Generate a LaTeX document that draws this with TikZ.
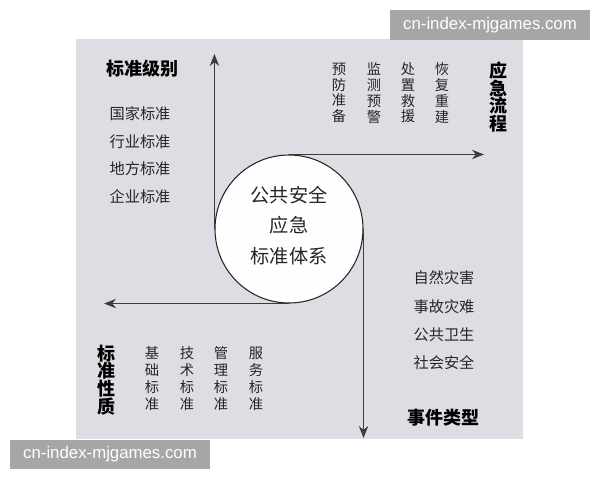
\documentclass[tikz,border=0pt]{standalone}
\usepackage{fontspec}
\newfontfamily\cjk{Noto Sans CJK SC}
\newfontfamily\wmfont{Liberation Sans}
\usetikzlibrary{arrows.meta}
\definecolor{bggray}{HTML}{DDDEE3}
\definecolor{ink}{HTML}{262626}
\definecolor{wmgray}{HTML}{A6A6A6}
\tikzset{
  axis/.style={draw=ink!90, line width=1.1pt, -{Stealth[length=9pt,width=7pt]}},
  item/.style={font=\cjk\fontsize{11.4}{12}\selectfont, text=ink, inner sep=0pt},
  title/.style={font=\cjk\bfseries\fontsize{13.5}{13.3}\selectfont, text=black, inner sep=0pt, align=center},
  colA/.style={font=\cjk\fontsize{10.7}{11.8}\selectfont, text=ink, inner sep=0pt, align=center},
  colB/.style={font=\cjk\fontsize{10.7}{12.75}\selectfont, text=ink, inner sep=0pt, align=center},
  hub/.style={circle, draw=ink, line width=0.8pt, fill=white!96!bggray, minimum size=111pt, inner sep=0pt},
  hubtext/.style={font=\cjk\fontsize{14.4}{15}\selectfont, text=ink, inner sep=0pt},
  wm/.style={fill=wmgray, text=white, font=\wmfont\fontsize{12.6}{13}\selectfont, minimum width=150pt, minimum height=22pt, inner sep=0pt}
}
\begin{document}
\begin{tikzpicture}[x=0.75pt,y=-0.75pt]
\useasboundingbox (0,0) rectangle (600,480);
\fill[bggray] (76,39) rectangle (523,439);
% central circle
\node[hub] (c) at (289,229) {};
\node[hubtext] (h1) at (289,195) {公共安全};
\node[hubtext] (h2) at (289,225) {应急};
\node[hubtext] (h3) at (289,256) {标准体系};
% axes
\coordinate (up) at (214,54);
\coordinate (rt) at (484,156);
\coordinate (dn) at (365,438);
\coordinate (lf) at (104,305);
\draw[axis] (c.west) -- (c.west |- up);
\draw[axis] (c.north) -- (rt |- c.north);
\draw[axis] (c.east) -- (c.east |- dn);
\draw[axis] (c.south) -- (lf |- c.south);
% top-left
\node[title] (t1) at (142,69) {标准级别};
\node[item] (a1) at (140,114) {国家标准};
\node[item] (a2) at (140,142) {行业标准};
\node[item] (a3) at (140,169) {地方标准};
\node[item] (a4) at (140,197) {企业标准};
% top-right
\node[title] (t2) at (498,97) {应\\急\\流\\程};
\node[colA] (b1) at (339,93) {预\\防\\准\\备};
\node[colA] (b2) at (374,93) {监\\测\\预\\警};
\node[colA] (b3) at (408,93) {处\\置\\救\\援};
\node[colA] (b4) at (442,93) {恢\\复\\重\\建};
% bottom-right
\node[item] (d1) at (444,278) {自然灾害};
\node[item] (d2) at (444,307) {事故灾难};
\node[item] (d3) at (444,335) {公共卫生};
\node[item] (d4) at (444,363) {社会安全};
\node[title] (t3) at (443,418) {事件类型};
% bottom-left
\node[title] (t4) at (106,380) {标\\准\\性\\质};
\node[colB] (e1) at (152,379) {基\\础\\标\\准};
\node[colB] (e2) at (187,379) {技\\术\\标\\准};
\node[colB] (e3) at (221,379) {管\\理\\标\\准};
\node[colB] (e4) at (256,379) {服\\务\\标\\准};
% watermarks
\node[wm] (w1) at (490,25) {cn-index-mjgames.com};
\node[wm] (w2) at (110,454.5) {cn-index-mjgames.com};
\end{tikzpicture}
\end{document}
